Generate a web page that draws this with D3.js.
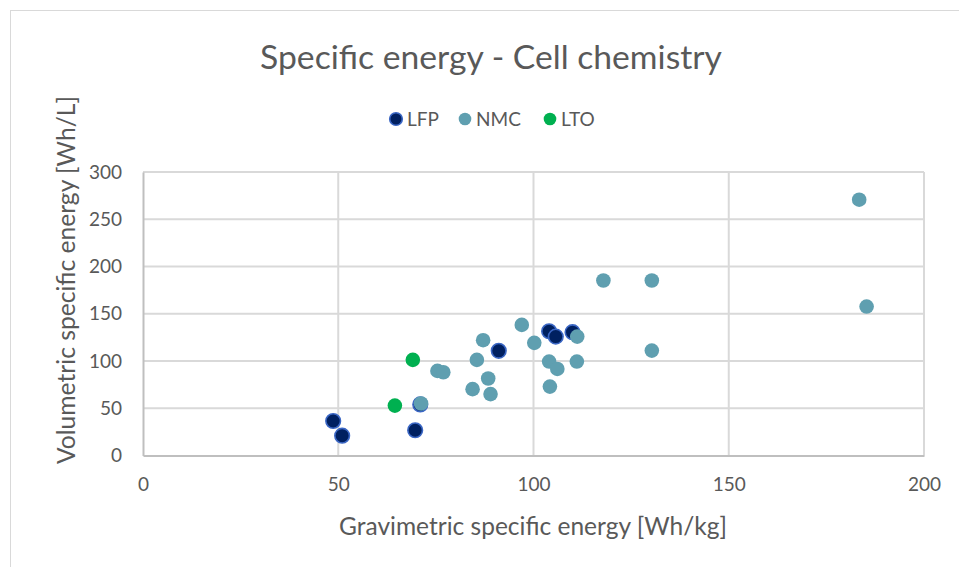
<!DOCTYPE html>
<html>
<head>
<meta charset="utf-8">
<script src="https://cdn.jsdelivr.net/npm/d3@7"></script>
<style>
  html, body { margin: 0; padding: 0; background: #fff; }
  svg { display: block; font-family: Lato, "Open Sans", sans-serif; }
</style>
</head>
<body>
<svg id="chart" width="959" height="567"></svg>
<script>
// Series: [gravimetric Wh/kg, volumetric Wh/L]
const lfp = [
  [48.7, 36.5], [51.0, 21.0], [69.7, 26.7], [71.0, 54.0],
  [91.1, 110.8], [104.0, 131.5], [105.7, 125.8], [110.0, 130.5]
];
const nmc = [
  [71.2, 55.0], [75.4, 89.5], [76.9, 88.1], [84.4, 70.2], [85.5, 101.2],
  [87.1, 122.0], [88.4, 81.5], [89.0, 65.0], [97.0, 138.2], [100.2, 119.2],
  [104.0, 99.4], [104.2, 72.9], [106.1, 91.6], [111.1, 99.4], [111.2, 125.8],
  [117.9, 185.2], [130.3, 185.2], [130.3, 111.0], [183.4, 270.7], [185.3, 157.6]
];
const lto = [
  [64.5, 52.8], [69.1, 101.2]
];
const seriesNames = ["LFP", "NMC", "LTO"];
const xTicks = [0, 50, 100, 150, 200];
const yTicks = [0, 50, 100, 150, 200, 250, 300];

const series = [
  { name: seriesNames[0], data: lfp, fill: "#002060", stroke: "#3a66c4", sw: 1.6 },
  { name: seriesNames[1], data: nmc, fill: "#5f9fb0", stroke: "#5f9fb0", sw: 0 },
  { name: seriesNames[2], data: lto, fill: "#00b050", stroke: "#00b050", sw: 0 }
];

const svg = d3.select("#chart");
const textColor = "#595959";

// scale a label's font size so the text spans the wanted width
function fitText(sel, width) {
  const node = sel.node();
  const size = parseFloat(sel.style("font-size"));
  const w = node.getComputedTextLength();
  if (w > 0) sel.style("font-size", (size * width / w).toFixed(2) + "px");
  return sel;
}

// outer chart frame
svg.append("rect")
  .attr("x", 10.5).attr("y", 10.5)
  .attr("width", 970).attr("height", 580)
  .attr("fill", "#fff").attr("stroke", "#d9d9d9").attr("stroke-width", 1);

const plot = { left: 143, right: 924, top: 172, bottom: 455.5 };

const x = d3.scaleLinear().domain([0, 200]).range([plot.left, plot.right]);
const y = d3.scaleLinear().domain([0, 300]).range([plot.bottom, plot.top]);

// gridlines
const grid = svg.append("g");
grid.selectAll("line.h").data(yTicks.slice(1)).join("line")
  .attr("x1", plot.left).attr("x2", plot.right)
  .attr("y1", d => y(d)).attr("y2", d => y(d))
  .attr("stroke", "#d9d9d9").attr("stroke-width", 2);
grid.selectAll("line.v").data(xTicks.slice(1)).join("line")
  .attr("x1", d => x(d)).attr("x2", d => x(d))
  .attr("y1", plot.top).attr("y2", plot.bottom)
  .attr("stroke", "#d9d9d9").attr("stroke-width", 2);

// axes
const xAxis = svg.append("g")
  .attr("transform", `translate(0,${plot.bottom})`)
  .call(d3.axisBottom(x).tickValues(xTicks).tickSize(0).tickPadding(22));
const yAxis = svg.append("g")
  .attr("transform", `translate(${plot.left},0)`)
  .call(d3.axisLeft(y).tickValues(yTicks).tickSize(0).tickPadding(21));
[xAxis, yAxis].forEach(a => {
  a.select(".domain").attr("stroke", "#bfbfbf").attr("stroke-width", 2);
  a.selectAll("text").attr("fill", textColor).style("font-size", "19px")
    .style("font-family", "Lato, 'Open Sans', sans-serif");
});

// points
series.forEach(s => {
  svg.append("g").selectAll("circle").data(s.data).join("circle")
    .attr("cx", d => x(d[0])).attr("cy", d => y(d[1]))
    .attr("r", 7.3)
    .attr("fill", s.fill)
    .attr("stroke", s.sw ? s.stroke : "none")
    .attr("stroke-width", s.sw);
});

// title
fitText(svg.append("text")
  .attr("x", 491).attr("y", 69)
  .attr("text-anchor", "middle")
  .attr("fill", textColor)
  .style("font-size", "29px")
  .text("Specific energy - Cell chemistry"), 462);

// legend
const legendPos = [396, 465, 550];
const legend = svg.append("g");
series.forEach((s, i) => {
  const g = legend.append("g").attr("transform", `translate(${legendPos[i]},119)`);
  g.append("circle").attr("r", 6.3)
    .attr("fill", s.fill)
    .attr("stroke", s.sw ? s.stroke : "none").attr("stroke-width", s.sw);
  g.append("text").attr("x", 11).attr("y", 6.8)
    .attr("fill", textColor).style("font-size", "19px")
    .text(s.name);
});

// axis titles
fitText(svg.append("text")
  .attr("x", 533).attr("y", 535)
  .attr("text-anchor", "middle")
  .attr("fill", textColor)
  .style("font-size", "20px")
  .text("Gravimetric specific energy [Wh/kg]"), 388);
fitText(svg.append("text")
  .attr("transform", "translate(75,280) rotate(-90)")
  .attr("text-anchor", "middle")
  .attr("fill", textColor)
  .style("font-size", "20px")
  .text("Volumetric specific energy [Wh/L]"), 368);
</script>
</body>
</html>
